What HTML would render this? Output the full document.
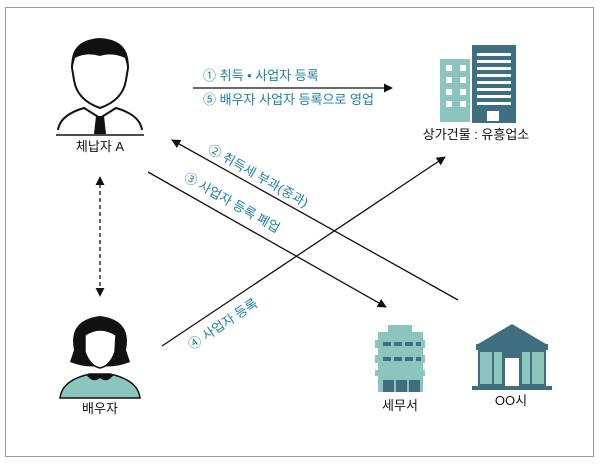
<!DOCTYPE html>
<html><head><meta charset="utf-8"><style>
html,body{margin:0;padding:0;background:#fff;}
svg{display:block;}
text{font-family:"Liberation Sans","Noto Sans CJK KR",sans-serif;}
</style></head><body>
<svg width="600" height="464" viewBox="0 0 600 464" xmlns="http://www.w3.org/2000/svg">
<defs>
<marker id="ah" viewBox="0 0 10 10" refX="9" refY="5" markerWidth="7" markerHeight="7" orient="auto-start-reverse"><path d="M0,0 L10,5 L0,10 z" fill="#111"/></marker>
</defs>
<rect x="5.5" y="7.5" width="588" height="449" fill="#fff" stroke="#999" stroke-width="1"/>

<!-- Man -->
<g>
<path d="M72,68 Q72,42 100,42 Q128,42 128,68 L126,80 Q123,100 100,108 Q77,100 74,80 Z" fill="#fff" stroke="#111" stroke-width="2"/>
<path d="M72,70 Q68,40 100,38 Q132,40 128,70 L125,58 Q112,52 100,56 Q86,52 75,58 Z" fill="#111"/>
<path d="M58,130 Q60,115 84,108 L100,118 L116,108 Q140,115 142,130" fill="none" stroke="#111" stroke-width="2"/>
<path d="M96,116 L104,116 L106,134 L94,134 Z" fill="#111"/>
<line x1="56" y1="135" x2="144" y2="135" stroke="#111" stroke-width="1.5"/>
</g>
<text x="100" y="151" font-size="13" text-anchor="middle" fill="#111">체납자 A</text>

<!-- Woman -->
<g>
<path d="M74,350 Q68,320 100,316 Q132,320 126,350 L130,362 Q115,368 100,366 Q85,368 70,362 Z" fill="#111"/>
<path d="M85,335 Q100,325 116,335 L115,352 Q110,366 100,368 Q90,366 85,352 Z" fill="#fff" stroke="#111" stroke-width="1.5"/>
<path d="M60,398 Q62,380 90,374 L110,374 Q138,380 140,398 Z" fill="#8cc5bd" stroke="#111" stroke-width="1.5"/>
<path d="M86,374 Q92,384 100,378 Q108,384 114,374 Z" fill="#111"/>
</g>
<text x="100" y="413" font-size="13" text-anchor="middle" fill="#111">배우자</text>

<!-- Commercial building -->
<g>
<rect x="440" y="59" width="32" height="63" fill="#8cc5bd"/>
<g fill="#fff">
<rect x="446" y="65" width="6" height="6"/><rect x="460" y="65" width="6" height="6"/>
<rect x="446" y="77" width="6" height="6"/><rect x="460" y="77" width="6" height="6"/>
<rect x="446" y="89" width="6" height="6"/><rect x="460" y="89" width="6" height="6"/>
<rect x="446" y="101" width="6" height="6"/><rect x="460" y="101" width="6" height="6"/>
</g>
<rect x="470" y="44" width="48" height="80" fill="#fff"/>
<rect x="472" y="45" width="44" height="78" fill="#3f6f7f"/>
<g fill="#fff">
<rect x="477" y="53" width="34" height="3"/><rect x="477" y="60" width="34" height="3"/>
<rect x="477" y="67" width="34" height="3"/><rect x="477" y="74" width="34" height="3"/>
<rect x="477" y="81" width="34" height="3"/><rect x="477" y="88" width="34" height="3"/>
<rect x="477" y="95" width="34" height="3"/><rect x="477" y="102" width="34" height="3"/>
<rect x="487" y="111" width="12" height="10"/>
</g>
</g>
<text x="476" y="139" font-size="13" text-anchor="middle" fill="#111">상가건물 : 유흥업소</text>

<!-- Tax office -->
<g fill="#8cc5bd">
<rect x="388" y="325" width="24" height="8"/>
<rect x="378" y="332" width="45" height="60"/>
<rect x="375" y="340" width="50" height="8"/>
<rect x="375" y="355" width="50" height="8"/>
<rect x="375" y="370" width="50" height="6"/>
</g>
<g fill="#3f6f7f">
<rect x="383" y="342" width="8" height="4"/><rect x="394" y="342" width="8" height="4"/><rect x="405" y="342" width="8" height="4"/><rect x="416" y="342" width="5" height="4"/>
<rect x="383" y="357" width="8" height="4"/><rect x="394" y="357" width="8" height="4"/><rect x="405" y="357" width="8" height="4"/><rect x="416" y="357" width="5" height="4"/>
<rect x="383" y="380" width="11" height="12"/><rect x="396" y="380" width="11" height="12"/><rect x="409" y="380" width="11" height="12"/>
</g>
<text x="400" y="410" font-size="13" text-anchor="middle" fill="#111">세무서</text>

<!-- City hall -->
<g fill="#3f6f7f">
<path d="M478,344 L512,324 L546,344 Z"/>
<rect x="476" y="344" width="72" height="6"/>
<rect x="478" y="350" width="68" height="36"/>
<rect x="472" y="386" width="80" height="4"/>
</g>
<g fill="#8cc5bd">
<rect x="480" y="352" width="12" height="32"/><rect x="494" y="352" width="8" height="32"/>
<rect x="522" y="352" width="8" height="32"/><rect x="532" y="352" width="12" height="32"/>
</g>
<rect x="505" y="358" width="14" height="28" fill="#fff"/>
<text x="511" y="405" font-size="13" text-anchor="middle" fill="#111">OO시</text>

<!-- Arrows -->
<g stroke="#111" stroke-width="1.3" fill="none">
<line x1="193" y1="88" x2="392" y2="88" marker-end="url(#ah)"/>
<line x1="458" y1="300" x2="172" y2="140" marker-end="url(#ah)"/>
<line x1="148" y1="172" x2="386" y2="307" marker-end="url(#ah)"/>
<line x1="162" y1="346" x2="445" y2="157" marker-end="url(#ah)"/>
<line x1="100" y1="177" x2="100" y2="296" stroke-dasharray="4,3" marker-start="url(#ah)" marker-end="url(#ah)"/>
</g>

<!-- Labels -->
<g fill="#1a7fa3" font-size="13">
<text x="203" y="80">① 취득 • 사업자 등록</text>
<text x="203" y="104">⑤ 배우자 사업자 등록으로 영업</text>
<text transform="translate(207,152) rotate(29.5)">② 취득세 부과(중과)</text>
<text transform="translate(183,180) rotate(29.5)">③ 사업자 등록 폐업</text>
<text transform="translate(192,350) rotate(-33.7)">④ 사업자 등록</text>
</g>
</svg>
</body></html>
